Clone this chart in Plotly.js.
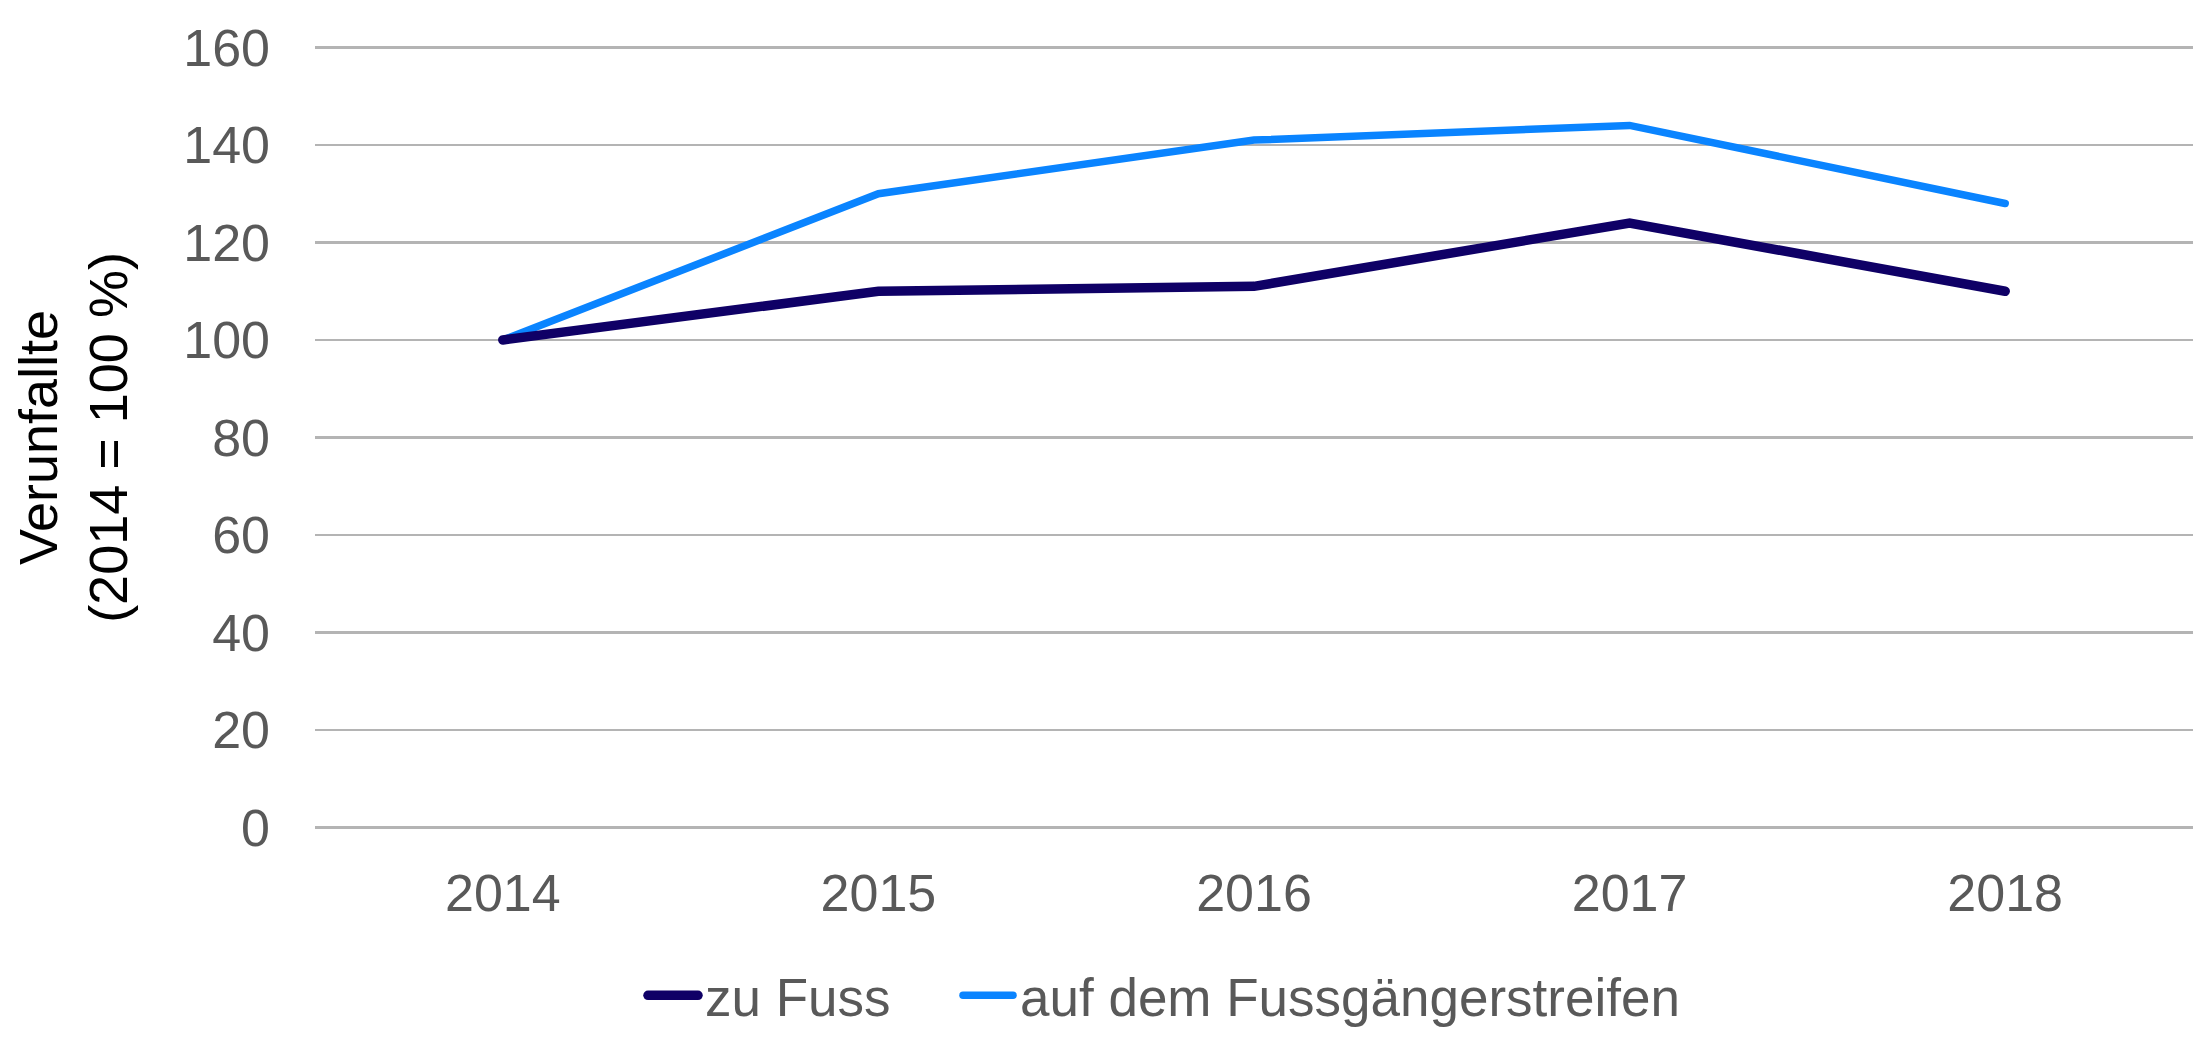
<!DOCTYPE html>
<html>
<head>
<meta charset="utf-8">
<script src="https://cdn.plot.ly/plotly-3.0.1.min.js"></script>
<style>
html,body{margin:0;padding:0;background:#fff;}
#chart{width:2205px;height:1051px;}
#chart .scatterlayer path.js-line, #chart .legendlines path{stroke-linecap:round !important;}
</style>
</head>
<body>
<div id="chart"></div>
<script>
const years = ["2014", "2015", "2016", "2017", "2018"];
const zuFuss = [100, 110, 111, 124, 110];
const fussgaengerstreifen = [100, 130, 141, 144, 128];
const seriesNames = ["zu Fuss", "auf dem Fussgängerstreifen"];
const yTicks = [0, 20, 40, 60, 80, 100, 120, 140, 160];

const FONT = "Liberation Sans, Arial, sans-serif";
const PL = 315, PW = 1878;
const px = v => (v - PL) / PW;

const traces = [
  {
    x: years, y: fussgaengerstreifen, name: seriesNames[1], type: "scatter", mode: "lines",
    line: {color: "#0a84ff", width: 7.5}, legend: "legend2"
  },
  {
    x: years, y: zuFuss, name: seriesNames[0], type: "scatter", mode: "lines",
    line: {color: "#0f0066", width: 9.5}, legend: "legend"
  }
];

const legFont = {family: FONT, size: 53, color: "#595959"};
const layout = {
  width: 2205, height: 1051,
  margin: {l: PL, r: 12, t: 45, b: 221},
  paper_bgcolor: "#ffffff", plot_bgcolor: "#ffffff",
  font: {family: FONT, size: 52, color: "#595959"},
  showlegend: true,
  legend: {
    orientation: "h", x: px(665), xanchor: "left", y: -0.2106, yanchor: "middle",
    font: legFont, bgcolor: "rgba(0,0,0,0)"
  },
  legend2: {
    orientation: "h", x: px(980), xanchor: "left", y: -0.2106, yanchor: "middle",
    font: legFont, bgcolor: "rgba(0,0,0,0)"
  },
  xaxis: {
    type: "category", categoryorder: "array", categoryarray: years,
    range: [-0.5, 4.5], showgrid: false, zeroline: false, showline: false,
    ticks: "", ticklabelstandoff: 28,
    tickfont: {family: FONT, size: 52, color: "#595959"}
  },
  yaxis: {
    range: [-0.5, 160.5], tickvals: yTicks, ticktext: yTicks.map(String),
    showgrid: true, gridcolor: "#b4b4b4", gridwidth: 2.5,
    zeroline: false, showline: false, ticks: "", ticklabelstandoff: 44,
    tickfont: {family: FONT, size: 52, color: "#595959"},
    title: {text: "Verunfallte<br>(2014 = 100 %)", font: {family: FONT, size: 54, color: "#000000"}, standoff: 38}
  }
};

Plotly.newPlot("chart", traces, layout, {displayModeBar: false, staticPlot: true}).then(gd => {
  // longer legend line samples like the reference keys; let them extend past the legend boxes
  gd.querySelectorAll("g.legend [clip-path], g.legend2 [clip-path]").forEach(el => el.removeAttribute("clip-path"));
  gd.querySelectorAll(".legendlines path").forEach(p => p.setAttribute("d", "M-17,0h50"));
});
</script>
</body>
</html>
